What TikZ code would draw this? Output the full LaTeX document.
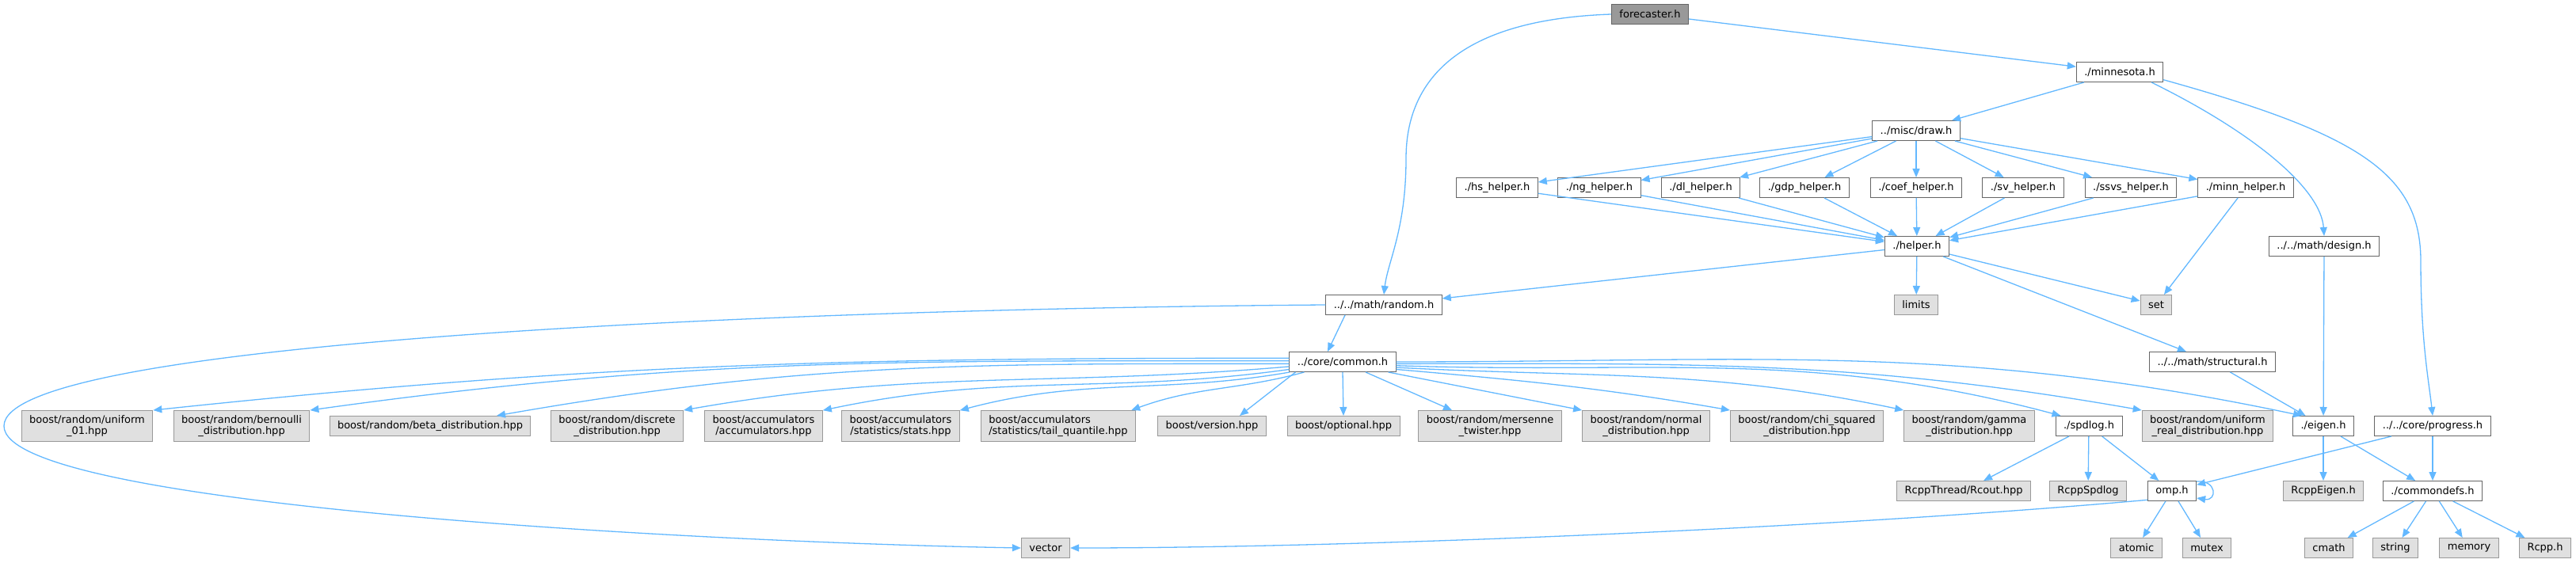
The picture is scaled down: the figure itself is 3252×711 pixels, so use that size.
\documentclass[tikz,border=0pt]{standalone}
\usepackage{fontspec}
\setmainfont{DejaVu Sans}
\usepackage{tikz}
\usetikzlibrary{arrows.meta}
\definecolor{EdgeBlue}{HTML}{63B8FF}
\definecolor{SrcLine}{HTML}{666666}
\definecolor{ExtFill}{HTML}{E0E0E0}
\definecolor{ExtLine}{HTML}{999999}
\definecolor{RootFill}{HTML}{999999}
\definecolor{RootLine}{HTML}{666666}

\begin{document}
\begin{tikzpicture}[x=1pt,y=-1pt,
  box/.style={draw,line width=1pt,inner xsep=10pt,inner ysep=6pt,minimum height=25pt,
    font=\fontsize{13}{14}\selectfont,align=center},
  srcfile/.style={box,draw=SrcLine,fill=white},
  extfile/.style={box,draw=ExtLine,fill=ExtFill},
  rootfile/.style={box,draw=RootLine,fill=RootFill},
  dep/.style={draw=EdgeBlue,line width=1.3pt,-{Triangle[length=11pt,width=9pt]}}
]
\useasboundingbox (0,0) rectangle (3252,711);

\node[rootfile] (forecaster) at (2083,18) {forecaster.h};
\node[srcfile] (minnesota) at (2676,91) {./minnesota.h};
\node[srcfile] (drawh) at (2419,165) {../misc/draw.h};

\node[srcfile] (hs) at (1890,237) {./hs\_helper.h};
\node[srcfile] (ng) at (2019,237) {./ng\_helper.h};
\node[srcfile] (dl) at (2147,237) {./dl\_helper.h};
\node[srcfile] (gdp) at (2278,237) {./gdp\_helper.h};
\node[srcfile] (coef) at (2419,237) {./coef\_helper.h};
\node[srcfile] (sv) at (2554,237) {./sv\_helper.h};
\node[srcfile] (ssvs) at (2690,237) {./ssvs\_helper.h};
\node[srcfile] (minn) at (2835,237) {./minn\_helper.h};

\node[srcfile] (helper) at (2420,311) {./helper.h};
\node[srcfile] (design) at (2934,311) {../../math/design.h};
\node[srcfile] (random) at (1747,385) {../../math/random.h};
\node[extfile] (limits) at (2419,385) {limits};
\node[extfile] (set) at (2722,385) {set};
\node[srcfile] (common) at (1695,457) {../core/common.h};
\node[srcfile] (structural) at (2793,457) {../../math/structural.h};

\node[extfile] (u01) at (110,538) {boost/random/uniform\\\_01.hpp};
\node[extfile] (bern) at (305,538) {boost/random/bernoulli\\\_distribution.hpp};
\node[extfile] (beta) at (543,538) {boost/random/beta\_distribution.hpp};
\node[extfile] (disc) at (779,538) {boost/random/discrete\\\_distribution.hpp};
\node[extfile] (accum) at (964,538) {boost/accumulators\\/accumulators.hpp};
\node[extfile] (stats) at (1137,538) {boost/accumulators\\/statistics/stats.hpp};
\node[extfile,align=left] (tailq) at (1336,538) {boost/accumulators\\/statistics/tail\_quantile.hpp};
\node[extfile] (version) at (1530,538) {boost/version.hpp};
\node[extfile] (optional) at (1696,538) {boost/optional.hpp};
\node[extfile] (mersenne) at (1881,538) {boost/random/mersenne\\\_twister.hpp};
\node[extfile] (normal) at (2078,538) {boost/random/normal\\\_distribution.hpp};
\node[extfile] (chisq) at (2281,538) {boost/random/chi\_squared\\\_distribution.hpp};
\node[extfile] (gamma) at (2486,538) {boost/random/gamma\\\_distribution.hpp};
\node[srcfile] (spdlog) at (2637,538) {./spdlog.h};
\node[extfile] (ureal) at (2787,538) {boost/random/uniform\\\_real\_distribution.hpp};
\node[srcfile] (eigen) at (2933,538) {./eigen.h};
\node[srcfile] (progress) at (3071,538) {../../core/progress.h};

\node[extfile] (rcout) at (2479,620) {RcppThread/Rcout.hpp};
\node[extfile] (rcppspdlog) at (2636,620) {RcppSpdlog};
\node[srcfile] (omp) at (2742,620) {omp.h};
\node[extfile] (rcppeigen) at (2933,620) {RcppEigen.h};
\node[srcfile] (commondefs) at (3071,620) {./commondefs.h};

\node[extfile] (vector) at (1320,692) {vector};
\node[extfile] (atomic) at (2697,692) {atomic};
\node[extfile] (mutex) at (2786,692) {mutex};
\node[extfile] (cmath) at (2940,692) {cmath};
\node[extfile] (string) at (3024,692) {string};
\node[extfile] (memory) at (3117,692) {memory};
\node[extfile] (rcpp) at (3213,692) {Rcpp.h};

\draw[dep] (forecaster) -- (minnesota);
\draw[dep] (forecaster.west) .. controls (1830,25) and (1775,110) .. (1775,200)
  .. controls (1775,290) and (1752,330) .. (random.north);
\draw[dep] (minnesota) -- (drawh);
\draw[dep] (minnesota.-18) .. controls (2850,170) and (2930,240) .. (design.north);
\draw[dep] (minnesota.-10) .. controls (2980,170) and (3056,220) .. (3056,330)
  .. controls (3056,430) and (3066,480) .. (progress.north);

\foreach \h in {hs,ng,dl,gdp,coef,sv,ssvs,minn} {
  \draw[dep] (drawh) -- (\h);
  \draw[dep] (\h) -- (helper);
}
\draw[dep] (minn) -- (set);
\draw[dep] (helper) -- (random);
\draw[dep] (helper) -- (limits);
\draw[dep] (helper) -- (set);
\draw[dep] (helper) -- (structural);
\draw[dep] (design) -- (eigen);
\draw[dep] (structural) -- (eigen);

\draw[dep] ([xshift=-49pt]random.south) -- ([xshift=-19pt]common.north);
\draw[dep] (random.west) .. controls (1000,390) and (5,430) .. (5,538)
  .. controls (5,640) and (900,685) .. (vector.west);

\draw[dep] (common.176) .. controls +(-560,0) and +(557,-59) .. (u01.north east);
\draw[dep] (common.179) .. controls +(-485,0) and +(480,-67) .. (bern.north east);
\draw[dep] (common.182) .. controls +(-393,0) and +(387,-68) .. ([xshift=84pt]beta.north);
\draw[dep] (common.185) .. controls +(-299,26) and +(295,-52) .. (disc.north east);
\draw[dep] (common.188) .. controls +(-230,32) and +(227,-48) .. (accum.north east);
\draw[dep] (common.191) .. controls +(-161,28) and +(158,-42) .. (stats.north east);
\draw[dep] (common.195) .. controls +(-84,23) and +(82,-30) .. ([xshift=-6pt]tailq.north east);
\draw[dep] ([xshift=8pt]common.south west) -- ([xshift=35pt]version.north);
\draw[dep] (common.south) -- (optional.north);
\draw[dep] ([xshift=29pt]common.south) -- ([xshift=-48pt]mersenne.north);
\draw[dep] ([xshift=-10pt]common.south east) -- (normal.north west);
\draw[dep] (common.-8) .. controls +(162,14) and +(-161,-28) .. (chisq.north west);
\draw[dep] (common.-6) .. controls +(249,13) and +(-245,-52) .. (gamma.north west);
\draw[dep] (common.-4) .. controls +(329,11) and +(-318,-85) .. ([xshift=7pt]spdlog.north west);
\draw[dep] (common.-2) .. controls +(370,0) and +(-364,-64) .. (ureal.north west);
\draw[dep] (common.0) .. controls +(449,0) and +(-439,-93) .. ([xshift=12pt]eigen.north west);

\draw[dep] (spdlog) -- (rcout);
\draw[dep] (spdlog) -- (rcppspdlog);
\draw[dep] (spdlog) -- (omp);
\draw[dep] (progress) -- (omp);
\draw[dep] (progress) -- (commondefs);
\draw[dep] (eigen) -- (rcppeigen);
\draw[dep] (eigen) -- (commondefs);

\draw[dep] ([yshift=-1pt]omp.north east) .. controls +(26,-2) and +(26,4) .. ([yshift=4pt]omp.south east);
\draw[dep] (omp.200) .. controls (2300,668) and (1700,692) .. (vector.east);
\draw[dep] (omp) -- (atomic);
\draw[dep] (omp) -- (mutex);

\foreach \c in {cmath,string,memory,rcpp}
  \draw[dep] (commondefs) -- (\c);
\end{tikzpicture}
\end{document}
